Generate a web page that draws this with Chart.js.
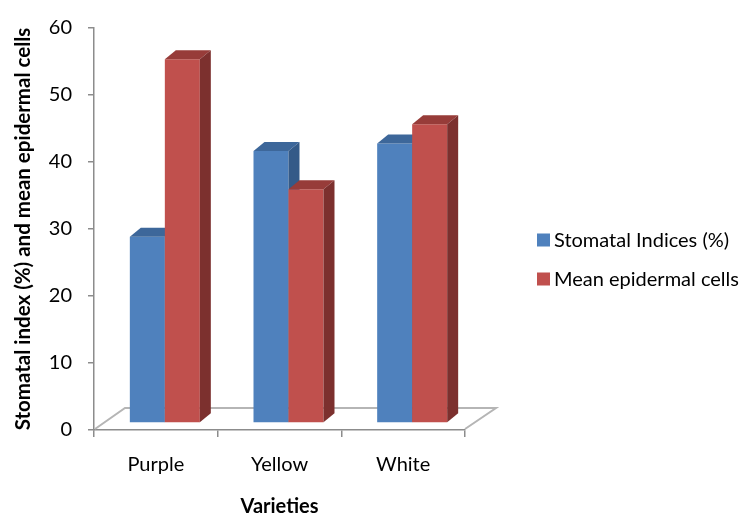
<!DOCTYPE html>
<html lang="en">
<head>
<meta charset="UTF-8">
<title>Stomatal index and mean epidermal cells</title>
<script src="https://cdn.jsdelivr.net/npm/chart.js"></script>
<style>
  html, body { margin: 0; padding: 0; background: #fff; }
  #wrap { width: 751px; height: 519px; }
</style>
</head>
<body>
<div id="wrap"><canvas id="chart"></canvas></div>
<script>
// data
const varieties = ['Purple', 'Yellow', 'White'];
const stomatalIndices = [27.8, 40.6, 41.7];
const epidermalCells = [54.3, 34.9, 44.6];
const yTicks = [0, 10, 20, 30, 40, 50, 60];

const FONT = 'Lato, "Liberation Sans", sans-serif';
const AXIS = '#8c8c8c';

// fake 3D: bars stand a little behind the front edge of the floor
const standBack = { dx: 9, dy: -7 };
const barDepth = { dx: 11, dy: -9 };
const floorDepth = { dx: 31, dy: -22 };
const shades = [
    { top: '#3d679a', side: '#345a88' },
    { top: '#973c39', side: '#7c302e' }
];
// legend sits to the right of the plot
const legendBox = { x: 537, y: 240, row: 39, size: 13, gap: 17 };

function drawFaces(ctx, bar, s) {
    const { x, y, base, width } = bar.getProps(['x', 'y', 'base', 'width'], true);
    const l = x - width / 2, r = x + width / 2;
    ctx.fillStyle = s.top;
    ctx.beginPath();
    ctx.moveTo(l, y);
    ctx.lineTo(r, y);
    ctx.lineTo(r + barDepth.dx, y + barDepth.dy);
    ctx.lineTo(l + barDepth.dx, y + barDepth.dy);
    ctx.closePath();
    ctx.fill();
    ctx.fillStyle = s.side;
    ctx.beginPath();
    ctx.moveTo(r, y);
    ctx.lineTo(r + barDepth.dx, y + barDepth.dy);
    ctx.lineTo(r + barDepth.dx, base + barDepth.dy);
    ctx.lineTo(r, base);
    ctx.closePath();
    ctx.fill();
}

const fake3d = {
    id: 'fake3d',
    beforeDatasetsDraw(chart) {
        const { ctx, chartArea: a } = chart;
        ctx.save();
        ctx.beginPath();
        ctx.moveTo(a.left + 1, a.bottom - 1);
        ctx.lineTo(a.left + floorDepth.dx, a.bottom + floorDepth.dy);
        ctx.lineTo(a.right + floorDepth.dx, a.bottom + floorDepth.dy);
        ctx.lineTo(a.right, a.bottom - 1);
        ctx.strokeStyle = '#b5b5b5';
        ctx.lineWidth = 2;
        ctx.stroke();
        ctx.restore();
        ctx.save();
        ctx.translate(standBack.dx, standBack.dy);
        // left-to-right, each bar with its own top and side, so the right bar hides the left one's side
        chart.data.datasets.forEach((ds, i) => {
            chart.getDatasetMeta(i).data.forEach(bar => {
                bar.draw(ctx);
                drawFaces(ctx, bar, shades[i]);
            });
        });
        ctx.restore();
        return false;
    },
    afterDraw(chart) {
        const ctx = chart.ctx;
        ctx.save();
        ctx.font = '20px ' + FONT;
        ctx.textBaseline = 'middle';
        ctx.textAlign = 'left';
        chart.data.datasets.forEach((ds, i) => {
            const y = legendBox.y + i * legendBox.row;
            ctx.fillStyle = ds.backgroundColor;
            ctx.fillRect(legendBox.x, y - legendBox.size / 2, legendBox.size, legendBox.size);
            ctx.fillStyle = '#000';
            ctx.fillText(ds.label, legendBox.x + legendBox.gap, y + 1);
        });
        ctx.restore();
    }
};

new Chart(document.getElementById('chart'), {
    type: 'bar',
    data: {
        labels: varieties,
        datasets: [
            { label: 'Stomatal Indices (%)', data: stomatalIndices, backgroundColor: '#4f81bd' },
            { label: 'Mean epidermal cells', data: epidermalCells, backgroundColor: '#c0504d' }
        ]
    },
    options: {
        responsive: true,
        maintainAspectRatio: false,
        animation: false,
        datasets: { bar: { barPercentage: 1, categoryPercentage: 0.566 } },
        layout: { padding: { top: 21, left: 0, right: 286, bottom: 0 } },
        plugins: {
            tooltip: { enabled: false },
            legend: { display: false }
        },
        scales: {
            x: {
                grid: { offset: true, drawOnChartArea: false, tickLength: 7, color: AXIS, lineWidth: 1.5 },
                border: { color: AXIS, width: 1.5 },
                ticks: { padding: 16, color: '#000', font: { family: FONT, size: 20 } },
                title: { display: true, text: 'Varieties', color: '#000', font: { family: FONT, size: 20, weight: 'bold' }, padding: 0 },
                afterFit: s => { s.height = 89; }
            },
            y: {
                min: 0, max: 60,
                afterBuildTicks: s => { s.ticks = yTicks.map(v => ({ value: v })); },
                grid: { drawOnChartArea: false, tickLength: 6, color: AXIS, lineWidth: 1.5 },
                border: { color: AXIS, width: 1.5 },
                ticks: { padding: 16, color: '#000', font: { family: FONT, size: 20 } },
                title: { display: true, text: 'Stomatal index (%) and mean epidermal cells', color: '#000', font: { family: FONT, size: 20.5, weight: 'bold' }, padding: { top: 11, bottom: 0 } },
                afterFit: s => { s.width = 94; }
            }
        }
    },
    plugins: [fake3d]
});
</script>
</body>
</html>
